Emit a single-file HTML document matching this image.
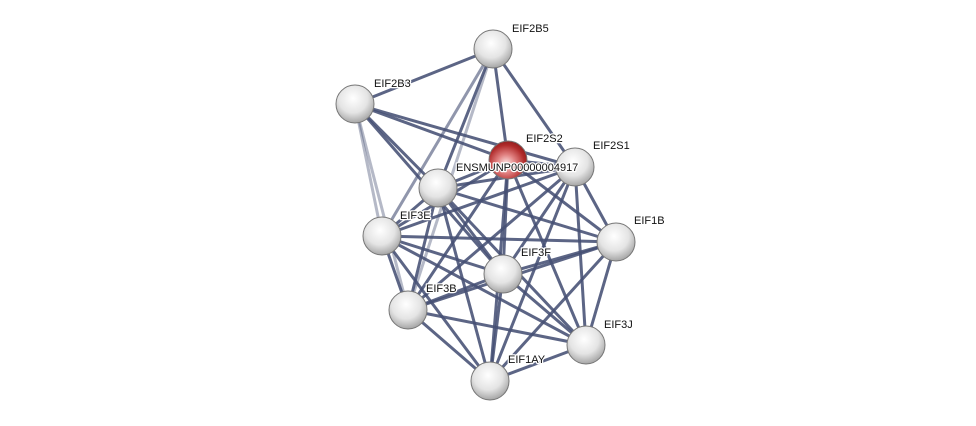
<!DOCTYPE html>
<html><head><meta charset="utf-8"><style>
html,body{margin:0;padding:0;background:#fff;}
svg{display:block;}
text{font-family:"Liberation Sans",Arial,sans-serif;font-size:11px;fill:#111;stroke:#fff;stroke-width:2.5px;paint-order:stroke;stroke-linejoin:round;}
</style></head><body>
<svg width="976" height="426" viewBox="0 0 976 426" xmlns="http://www.w3.org/2000/svg">
<defs>
<radialGradient id="g" cx="0.45" cy="0.35" r="0.7">
<stop offset="0" stop-color="#ffffff"/><stop offset="0.55" stop-color="#e4e4e4"/><stop offset="1" stop-color="#9a9a9a"/>
</radialGradient>
<radialGradient id="r" cx="0.45" cy="0.6" r="0.7">
<stop offset="0" stop-color="#ffe8e8"/><stop offset="0.35" stop-color="#e08080"/><stop offset="0.7" stop-color="#b02a2a"/><stop offset="1" stop-color="#7a1515"/>
</radialGradient>
</defs>
<g stroke="#465074" stroke-width="3" stroke-opacity="0.88" stroke-linecap="round">
<line x1="493" y1="49" x2="355" y2="104"/>
<line x1="493" y1="49" x2="508" y2="160"/>
<line x1="493" y1="49" x2="575" y2="167"/>
<line x1="493" y1="49" x2="438" y2="188"/>
<line x1="493" y1="49" x2="382" y2="236" stroke-opacity="0.6"/>
<line x1="493" y1="49" x2="408" y2="310" stroke-opacity="0.4"/>
<line x1="355" y1="104" x2="508" y2="160"/>
<line x1="355" y1="104" x2="575" y2="167"/>
<line x1="355" y1="104" x2="438" y2="188"/>
<line x1="355" y1="104" x2="382" y2="236" stroke-opacity="0.4"/>
<line x1="355" y1="104" x2="408" y2="310" stroke-opacity="0.4"/>
<line x1="355" y1="104" x2="503" y2="274"/>
<line x1="508" y1="160" x2="575" y2="167"/>
<line x1="508" y1="160" x2="438" y2="188"/>
<line x1="508" y1="160" x2="382" y2="236"/>
<line x1="508" y1="160" x2="616" y2="242"/>
<line x1="508" y1="160" x2="503" y2="274"/>
<line x1="508" y1="160" x2="408" y2="310"/>
<line x1="508" y1="160" x2="586" y2="345"/>
<line x1="508" y1="160" x2="490" y2="381"/>
<line x1="575" y1="167" x2="438" y2="188"/>
<line x1="575" y1="167" x2="382" y2="236"/>
<line x1="575" y1="167" x2="616" y2="242"/>
<line x1="575" y1="167" x2="503" y2="274"/>
<line x1="575" y1="167" x2="408" y2="310"/>
<line x1="575" y1="167" x2="586" y2="345"/>
<line x1="575" y1="167" x2="490" y2="381"/>
<line x1="438" y1="188" x2="382" y2="236"/>
<line x1="438" y1="188" x2="616" y2="242"/>
<line x1="438" y1="188" x2="503" y2="274"/>
<line x1="438" y1="188" x2="408" y2="310"/>
<line x1="438" y1="188" x2="586" y2="345"/>
<line x1="438" y1="188" x2="490" y2="381"/>
<line x1="382" y1="236" x2="616" y2="242"/>
<line x1="382" y1="236" x2="503" y2="274"/>
<line x1="382" y1="236" x2="408" y2="310"/>
<line x1="382" y1="236" x2="586" y2="345"/>
<line x1="382" y1="236" x2="490" y2="381"/>
<line x1="616" y1="242" x2="503" y2="274"/>
<line x1="616" y1="242" x2="408" y2="310"/>
<line x1="616" y1="242" x2="586" y2="345"/>
<line x1="616" y1="242" x2="490" y2="381"/>
<line x1="503" y1="274" x2="408" y2="310"/>
<line x1="503" y1="274" x2="586" y2="345"/>
<line x1="503" y1="274" x2="490" y2="381"/>
<line x1="408" y1="310" x2="586" y2="345"/>
<line x1="408" y1="310" x2="490" y2="381"/>
<line x1="586" y1="345" x2="490" y2="381"/>
</g>
<g stroke="#777" stroke-width="1">
<circle cx="493" cy="49" r="19" fill="url(#g)"/>
<circle cx="355" cy="104" r="19" fill="url(#g)"/>
<circle cx="508" cy="160" r="19" fill="url(#r)"/>
<circle cx="575" cy="167" r="19" fill="url(#g)"/>
<circle cx="438" cy="188" r="19" fill="url(#g)"/>
<circle cx="382" cy="236" r="19" fill="url(#g)"/>
<circle cx="616" cy="242" r="19" fill="url(#g)"/>
<circle cx="503" cy="274" r="19" fill="url(#g)"/>
<circle cx="408" cy="310" r="19" fill="url(#g)"/>
<circle cx="586" cy="345" r="19" fill="url(#g)"/>
<circle cx="490" cy="381" r="19" fill="url(#g)"/>
</g>
<text x="512" y="32">EIF2B5</text>
<text x="374" y="87">EIF2B3</text>
<text x="526" y="142">EIF2S2</text>
<text x="593" y="149">EIF2S1</text>
<text x="456" y="171">ENSMUNP00000004917</text>
<text x="400" y="219">EIF3E</text>
<text x="634" y="224">EIF1B</text>
<text x="521" y="256">EIF3F</text>
<text x="426" y="292">EIF3B</text>
<text x="604" y="328">EIF3J</text>
<text x="508" y="363">EIF1AY</text>
</svg>
</body></html>
